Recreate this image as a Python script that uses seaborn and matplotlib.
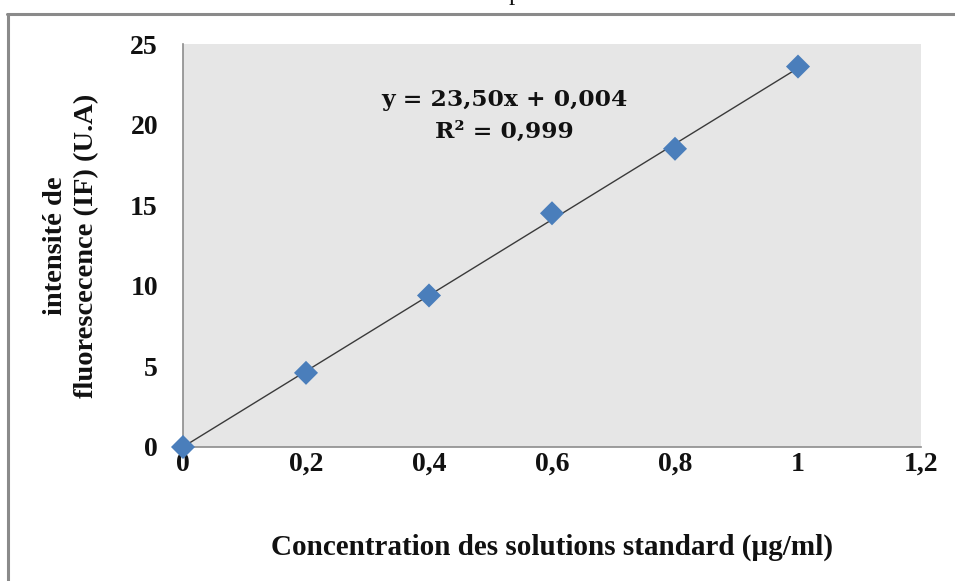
import matplotlib
matplotlib.use("Agg")
import matplotlib.pyplot as plt
from matplotlib.lines import Line2D
from matplotlib.ticker import FuncFormatter
import pandas as pd
import seaborn as sns

# Calibration standards
concentration = [0.0, 0.2, 0.4, 0.6, 0.8, 1.0]
intensity = [0.0, 4.6, 9.4, 14.5, 18.5, 23.6]

# Linear fit reported on the chart
slope = 23.50
intercept = 0.004
r_squared = 0.999
fit_range = [0.0, 1.0]

x_ticks = [0, 0.2, 0.4, 0.6, 0.8, 1.0, 1.2]
y_ticks = [0, 5, 10, 15, 20, 25]

df = pd.DataFrame({"conc": concentration, "IF": intensity})
fit_df = pd.DataFrame({"conc": fit_range,
                       "IF": [slope * v + intercept for v in fit_range]})

sns.set_theme(style="white", rc={"axes.facecolor": "#e6e6e6"})
plt.rcParams["font.family"] = ["DejaVu Serif"]

fig = plt.figure(figsize=(9.55, 5.81), dpi=100)
ax = fig.add_axes([183 / 955, 1 - 447 / 581, (921 - 183) / 955, (447 - 44) / 581])

sns.lineplot(data=fit_df, x="conc", y="IF", ax=ax, color="#3a3a3a",
             linewidth=1.0, zorder=2)
sns.scatterplot(data=df, x="conc", y="IF", ax=ax, marker="D", s=150,
                color="#4a7ebb", edgecolor="none", zorder=3)
for coll in ax.collections:
    coll.set_clip_on(False)

ax.set_xlim(0, 1.2)
ax.set_ylim(0, 25)
ax.set_xticks(x_ticks)
ax.set_yticks(y_ticks)


def comma_fmt(v, _):
    return f"{v:g}".replace(".", ",")


ax.xaxis.set_major_formatter(FuncFormatter(comma_fmt))
ax.yaxis.set_major_formatter(FuncFormatter(comma_fmt))
ax.tick_params(axis="both", length=0, labelsize=20, colors="#111111")
ax.tick_params(axis="x", pad=3.5)
ax.tick_params(axis="y", pad=18)
for lab in ax.get_xticklabels() + ax.get_yticklabels():
    lab.set_fontweight("bold")
    lab.set_family("Liberation Serif")

ax.set_xlabel("")
ax.set_ylabel("")

for side in ["top", "right"]:
    ax.spines[side].set_visible(False)
for side in ["left", "bottom"]:
    ax.spines[side].set_color("#8c8c8c")
    ax.spines[side].set_linewidth(1.2)

# Regression equation
ax.text(0.436, 0.822, f"y = {slope:.2f}x + {intercept:.3f}".replace(".", ",")
        + "\n" + f"R² = {r_squared:.3f}".replace(".", ","),
        transform=ax.transAxes, ha="center", va="center",
        multialignment="center", fontsize=16.8, fontweight="bold",
        color="#111111", linespacing=1.6)

# Axis titles
fig.text(552 / 955, 1 - 547 / 581,
         "Concentration des solutions standard (µg/ml)",
         ha="center", va="center", fontsize=21, fontweight="bold",
         family="Liberation Serif", color="#111111")
fig.text(71 / 955, 1 - 246 / 581,
         "intensité de\nfluorescecence (IF) (U.A)",
         ha="center", va="center", rotation=90, multialignment="center",
         fontsize=20.5, fontweight="bold", family="Liberation Serif",
         color="#111111", linespacing=1.3)

# Surrounding frame of the chart
fig.add_artist(Line2D([7 / 955, 1.0], [1 - 14 / 581, 1 - 14 / 581],
                      transform=fig.transFigure, color="#8a8a8a", linewidth=2.2))
fig.add_artist(Line2D([8 / 955, 8 / 955], [0.0, 1 - 14 / 581],
                      transform=fig.transFigure, color="#8a8a8a", linewidth=2.2))

# Caption text above the frame, mostly cut off by the figure edge
fig.text(515 / 955, 1.0, "p", ha="center", va="baseline", fontsize=18,
         family="Liberation Serif", color="#111111")

fig.savefig("out.png", dpi=100)
